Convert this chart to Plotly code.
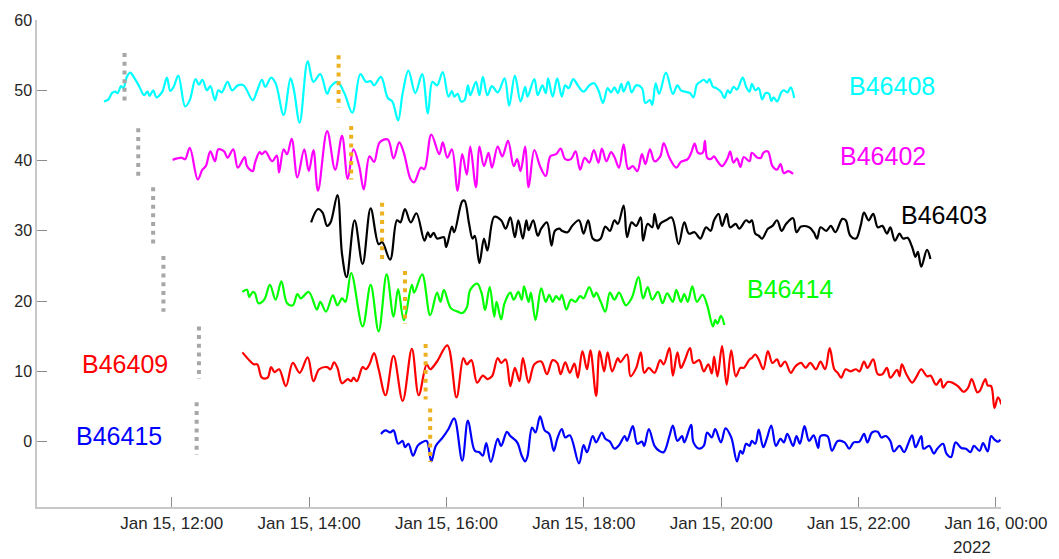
import pandas as pd
import plotly.graph_objects as go

# ---------------- data (minutes after BASE, offset-stacked amplitudes) ----------------
BASE = pd.Timestamp("2022-01-15 10:02:45")

b46408_t = [58,62,65,68,70,73,75,78,81,84,
            89,93,96,98,101,104,109,113,116,119,
            123,129,133,138,141,144,148,151,155,158,
            161,166,170,175,180,188,192,196,199,204,
            208,215,221,224,229,236,241,247,253,256,
            262,268,275,282,287,291,294,300,306,310,
            315,319,324,330,336,341,345,349,354,359,
            362,364,367,370,373,376,378,383,386,389,
            393,397,402,408,412,417,422,426,428,434,
            437,441,444,446,450,454,458,461,464,468,
            472,477,482,486,490,494,498,501,504,507,
            510,512,516,519,523,528,531,535,537,540,
            543,549,555,559,562,566,570,573,576,579,
            582,585,587,590,593,597,600,603,605,608,
            611,616,619,622,624,627,630,633,636,639,
            641,643,646,650,652,655,658,661]
b46408_v = [48.4,48.7,49.6,49.8,49.6,50.6,50.3,51.9,52.5,51.9,
            50.5,49.3,49.8,49.2,50.0,49.0,49.8,51.8,49.9,50.5,
            52.1,47.7,48.6,51.6,50.8,51.5,50.0,50.6,48.6,50.0,
            49.7,51.2,50.0,50.7,50.7,48.6,50.0,51.5,50.5,51.8,
            51.0,46.5,51.7,50.0,45.4,54.1,51.2,52.3,49.5,50.5,
            51.2,49.6,46.8,52.3,51.2,51.3,50.7,51.9,48.9,48.4,
            45.7,49.6,52.8,49.6,52.3,46.7,51.2,50.7,52.6,49.1,
            49.9,49.1,49.5,48.4,48.6,50.7,49.3,51.2,49.3,51.9,
            49.3,50.6,49.7,51.7,47.8,52.1,48.4,50.5,49.1,51.6,
            49.3,50.7,49.6,51.7,49.1,51.7,49.1,50.7,50.3,51.6,
            50.7,49.8,50.7,51.0,50.0,48.2,50.3,49.7,50.4,49.6,
            50.9,49.8,51.2,49.7,50.7,50.3,48.2,48.6,47.9,51.0,
            49.5,52.5,49.5,50.7,50.0,49.8,49.6,49.0,50.8,51.2,
            51.5,51.1,51.6,50.5,50.3,49.8,48.9,50.0,49.6,50.5,
            50.1,51.8,50.5,49.8,50.9,50.0,50.3,48.7,49.6,49.5,
            48.5,49.0,48.4,49.8,50.0,49.7,50.4,48.9]

b46402_t = [118,122,126,129,133,140,144,147,151,155,
            158,163,166,171,175,181,183,188,190,194,
            196,199,205,209,211,215,218,222,227,233,
            237,241,245,253,260,266,271,276,281,285,
            290,294,299,306,311,316,320,326,329,335,
            338,344,351,354,358,362,367,371,375,378,
            383,386,390,394,397,402,406,411,416,419,
            422,426,429,434,439,444,448,453,457,461,
            466,470,474,478,482,486,490,493,497,501,
            504,508,512,516,520,524,528,531,535,539,
            544,547,552,558,562,568,571,574,577,581,
            583,585,588,591,594,598,603,605,608,611,
            614,617,622,624,629,632,634,638,642,646,
            649,652,656,660]
b46402_v = [40.1,40.3,40.4,40.2,41.8,37.3,38.7,39.2,41.3,39.9,
            41.6,41.3,40.4,41.6,39.0,40.5,39.2,38.5,39.7,41.2,
            40.9,41.3,39.9,40.7,38.3,41.6,40.9,43.1,37.6,41.6,
            38.5,41.5,35.7,44.2,38.7,43.5,37.4,41.6,39.2,35.9,
            40.6,39.8,42.6,43.0,40.3,42.6,41.1,37.3,36.9,39.0,
            38.8,43.7,40.9,42.6,40.4,41.6,35.7,40.9,38.0,42.0,
            36.2,42.0,39.2,41.1,39.0,42.0,40.6,42.8,39.2,40.2,
            38.5,42.0,36.2,41.5,39.2,37.8,40.6,40.9,41.7,40.2,
            40.2,41.3,38.7,40.4,39.7,41.5,39.7,41.7,39.9,41.2,
            40.5,39.0,42.3,38.8,39.2,38.5,40.9,39.5,41.6,39.9,
            40.6,42.5,40.4,39.0,39.8,40.2,41.1,42.4,41.1,41.1,
            42.8,40.4,40.2,40.6,39.9,39.2,40.4,41.3,39.7,40.3,
            39.1,40.5,39.9,41.1,40.4,40.4,41.1,41.3,39.2,38.7,
            39.5,38.2,38.5,38.1]

b46403_t = [239,245,249,253,256,262,266,270,277,284,
            291,298,301,308,314,317,321,326,331,338,
            341,343,346,349,352,355,357,362,364,371,
            373,377,380,382,386,390,393,399,405,409,
            413,417,420,424,427,429,433,437,440,445,
            449,452,456,458,463,467,473,477,481,485,
            489,492,496,500,504,507,512,515,519,523,
            527,529,533,537,539,542,544,549,554,560,
            565,569,574,579,584,588,591,595,598,602,
            605,610,613,619,622,624,627,630,633,638,
            642,646,650,654,660,663,667,674,678,681,
            684,689,693,697,703,706,710,715,719,722,
            726,730,734,738,742,745,749,753,756,760,
            764,767,769,772,777,780]
b46403_v = [31.2,33.1,32.6,30.7,31.2,35.1,26.7,23.4,31.5,25.3,
            33.2,28.1,28.4,25.9,31.5,31.2,33.1,31.2,32.5,28.6,
            29.8,29.1,29.7,28.9,29.0,29.1,27.7,30.6,29.8,34.2,
            34.3,31.0,28.9,29.3,25.4,28.9,27.2,32.0,31.5,30.3,
            31.9,29.1,31.5,28.9,31.5,30.1,31.5,29.3,30.3,31.2,
            27.9,30.0,30.3,30.0,29.8,30.7,31.5,29.6,31.5,28.9,
            28.6,28.9,30.6,30.0,31.5,31.0,33.6,29.1,31.2,30.7,
            31.9,28.6,31.0,30.5,32.4,30.3,31.0,31.5,31.9,28.1,
            31.2,29.6,29.8,28.9,30.5,30.0,31.5,32.4,30.7,32.4,
            30.5,31.0,30.3,31.5,31.2,31.5,29.6,29.3,28.9,30.3,
            30.7,31.5,30.0,31.0,31.8,29.8,30.6,30.5,29.8,28.9,
            30.5,30.0,30.7,29.8,31.7,31.5,29.3,28.9,30.7,32.6,
            31.5,32.4,30.5,30.7,29.6,30.5,28.6,29.6,28.9,29.0,
            27.7,26.3,27.0,24.9,27.3,26.0]

b46414_t = [179,183,185,188,190,193,198,203,208,213,
            218,223,227,230,237,244,247,252,258,262,
            266,269,274,284,291,298,305,311,315,320,
            327,329,336,343,349,352,355,361,367,371,
            375,378,384,388,391,395,399,401,405,408,
            413,416,420,423,425,429,431,435,440,444,
            447,450,453,456,458,462,466,470,474,477,
            482,486,488,492,496,500,504,508,514,519,
            525,529,533,537,542,546,550,555,558,562,
            565,568,572,576,581,585,590,592,594,597,
            600]
b46414_v = [21.3,21.6,20.6,21.3,21.1,19.7,20.2,22.3,20.2,22.8,
            19.7,19.4,21.0,20.4,21.3,18.8,19.9,18.5,20.8,19.4,
            20.4,19.9,24.0,16.4,22.3,15.7,23.8,17.8,21.7,17.3,
            22.3,21.2,23.8,18.0,21.2,19.9,21.6,19.0,18.5,18.3,
            19.1,21.6,22.5,21.1,18.7,22.0,17.8,19.9,17.4,19.7,
            21.2,20.2,21.3,20.2,22.1,19.9,21.2,17.3,21.8,19.9,
            20.9,19.9,20.7,20.2,20.9,18.8,20.2,19.9,20.7,20.4,
            22.0,20.6,21.2,19.9,18.5,21.2,20.2,21.2,19.4,20.4,
            23.4,20.4,22.0,20.2,21.3,19.7,21.1,19.9,21.6,19.9,
            21.0,19.9,22.1,19.9,20.9,19.4,16.4,17.3,16.8,17.9,
            16.6]

b46409_t = [179,186,189,192,196,201,204,207,211,217,
            223,229,236,241,246,253,256,259,262,266,
            271,274,276,279,284,287,290,294,298,304,
            311,319,327,333,340,343,349,358,366,372,
            375,379,384,389,393,397,402,405,409,413,
            417,421,424,429,434,440,445,450,454,457,
            461,465,469,472,476,480,483,488,491,495,
            498,502,507,509,515,518,523,527,530,534,
            539,544,547,552,555,559,562,565,570,573,
            578,582,586,589,591,594,598,602,606,610,
            614,617,622,624,627,630,634,638,642,646,
            649,653,658,662,667,671,675,680,684,688,
            692,696,699,702,706,710,715,718,722,725,
            730,734,738,742,745,751,753,755,759,764,
            768,772,777,780,785,789,791,795,799,804,
            809,813,816,821,823,828,830,833,836,839,
            842]
b46409_v = [12.7,11.4,11.0,11.0,9.1,9.1,10.6,9.9,10.3,7.9,
            11.2,9.8,12.0,8.6,10.3,10.6,10.3,11.3,10.5,8.3,
            8.9,8.6,9.1,8.6,10.6,10.3,11.0,12.6,10.3,6.6,
            12.2,5.8,13.2,6.6,11.0,10.3,11.4,13.7,6.3,11.9,
            11.0,11.6,8.4,9.4,8.9,9.3,11.9,11.2,11.7,7.9,
            10.5,8.6,11.9,8.4,11.0,11.4,9.6,11.6,11.2,9.6,
            11.3,9.8,11.1,9.1,12.9,10.3,13.0,6.5,12.9,10.0,
            12.7,10.0,11.9,11.3,12.4,9.3,10.5,12.7,9.8,10.5,
            9.8,11.6,11.0,13.3,9.4,12.7,10.5,11.4,13.3,11.2,
            11.6,10.0,11.0,9.7,12.1,9.3,13.6,8.1,13.0,9.3,
            10.5,10.5,11.7,11.9,12.4,11.7,10.3,12.9,11.2,11.7,
            10.7,11.4,9.8,10.7,11.2,10.5,11.2,10.3,11.4,10.3,
            13.3,10.3,9.8,9.1,10.3,10.0,10.3,10.0,11.4,10.5,
            11.7,9.6,9.6,10.5,9.1,10.2,9.3,11.0,9.6,8.4,
            9.3,10.3,9.3,9.4,8.1,8.9,7.7,8.5,8.4,7.9,
            7.1,7.7,8.9,7.0,7.2,8.9,8.0,7.9,4.8,6.3,
            5.3]

b46415_t = [300,304,308,311,315,319,321,324,328,332,
            336,340,344,348,354,359,364,371,376,382,
            386,389,392,396,402,405,410,413,419,423,
            426,428,432,435,439,443,447,451,454,458,
            461,465,473,477,480,485,488,493,496,500,
            504,508,513,515,520,524,528,530,534,539,
            543,547,552,555,559,563,565,571,573,578,
            582,585,589,592,597,601,606,611,614,616,
            619,622,624,627,630,634,637,641,645,649,
            652,655,660,663,666,670,674,678,682,684,
            690,694,699,705,709,713,718,722,725,729,
            734,737,741,745,748,753,757,761,764,767,
            772,774,779,783,786,791,794,798,802,807,
            811,815,818,823,826,830,833,836,839,841]
b46415_v = [1.1,1.6,1.3,1.6,-0.3,0.1,-0.8,-0.3,-2.0,-0.6,
            -0.1,0.1,-2.8,-0.6,0.6,1.8,3.3,-2.7,3.0,-1.3,
            -1.5,-2.0,-0.2,-2.9,0.4,-0.6,1.4,0.8,-0.1,-2.0,
            -2.8,-2.1,2.0,1.3,3.6,1.6,1.1,-1.3,0.4,1.8,
            0.6,0.9,-3.1,-0.5,-1.5,0.8,-0.1,1.3,0.4,0.0,
            -1.0,-0.5,0.8,0.1,2.2,-0.3,0.0,-0.6,1.8,-0.6,
            -1.3,-1.5,0.8,2.3,0.1,0.8,-0.1,2.4,-0.1,-1.0,
            -0.6,1.3,0.6,1.8,-0.1,1.9,0.6,-2.8,-1.3,-1.7,
            -0.3,-0.6,0.1,-0.3,1.7,-0.8,0.4,2.3,-0.6,0.4,
            -0.1,1.1,-0.6,0.8,-0.3,2.2,0.1,0.9,-0.9,0.8,
            0.8,-1.3,0.1,-0.1,-1.0,-0.1,0.0,1.1,-0.1,1.3,
            1.4,0.6,0.8,0.1,-1.4,-0.6,-1.5,-0.1,0.9,-0.8,
            0.8,-1.0,-0.6,-1.7,-1.0,-0.3,-1.7,-2.2,-0.1,-0.9,
            -1.0,-1.5,-0.6,-1.3,-0.2,-1.4,0.8,0.3,0.0,0.3]

station_names = ["B46408", "B46402", "B46403", "B46414", "B46409", "B46415"]
station_colors = ["#00FFFF", "#FF00FF", "#000000", "#00FF00", "#FF0000", "#0000FF"]

# event marker bars (minutes after BASE, value span)
gray_t = [76, 88, 101, 110, 141, 139]
gray_top = [55.3, 44.6, 36.2, 26.4, 16.4, 5.6]
gray_bot = [47.9, 37.3, 28.0, 18.5, 8.9, -1.9]
orange_t = [263, 274, 301, 321, 339, 343]
orange_top = [55.0, 44.9, 34.0, 24.3, 13.9, 4.7]
orange_bot = [47.5, 37.3, 26.0, 16.8, 6.0, -2.9]

# ---------------- figure ----------------
def tt(mins):
    return [BASE + pd.Timedelta(minutes=m) for m in mins]

series = [(b46408_t, b46408_v), (b46402_t, b46402_v), (b46403_t, b46403_v),
          (b46414_t, b46414_v), (b46409_t, b46409_v), (b46415_t, b46415_v)]

fig = go.Figure()
for (t, v), name, col in zip(series, station_names, station_colors):
    assert len(t) == len(v), (name, len(t), len(v))
    fig.add_trace(go.Scatter(x=tt(t), y=v, mode="lines", name=name,
                             line=dict(color=col, width=2.2, shape="spline", smoothing=1.0),
                             hoverinfo="skip"))

for t, a, b in zip(gray_t, gray_top, gray_bot):
    fig.add_trace(go.Scatter(x=tt([t, t]), y=[a, b], mode="lines",
                             line=dict(color="#A6A6A6", width=4, dash="4px,4.7px"),
                             hoverinfo="skip"))
for t, a, b in zip(orange_t, orange_top, orange_bot):
    fig.add_trace(go.Scatter(x=tt([t, t]), y=[a, b], mode="lines",
                             line=dict(color="#EDB120", width=4, dash="4px,4.7px"),
                             hoverinfo="skip"))

# station labels (minutes after BASE, value)
label_pos = [(746, 50.6), (739, 40.6), (792, 32.3), (657, 21.7), (76, 11.0), (71, 0.85)]
annos = []
for (m, y), name, col in zip(label_pos, station_names, station_colors):
    annos.append(dict(x=BASE + pd.Timedelta(minutes=m), y=y, xref="x", yref="y",
                      text=name, showarrow=False, xanchor="center", yanchor="middle",
                      font=dict(family="Liberation Sans, Arial", size=25, color=col)))
annos.append(dict(x=pd.Timestamp("2022-01-16 00:00"), y=0, xref="x", yref="paper",
                  text="2022", showarrow=False, xanchor="center", yanchor="top",
                  xshift=-24, yshift=-29,
                  font=dict(family="Liberation Sans, Arial", size=17, color="#262626")))

fig.update_layout(
    width=1059, height=559,
    margin=dict(l=37, r=56, t=13, b=52),
    paper_bgcolor="white", plot_bgcolor="white",
    showlegend=False,
    annotations=annos,
    font=dict(family="Liberation Sans, Arial", color="#262626"),
)
fig.update_xaxes(
    type="date",
    range=["2022-01-15 10:02:18", "2022-01-16 00:04:24"],
    tick0="2022-01-15 00:00", dtick=2 * 3600 * 1000,
    tickformat="%b %-d, %H:%M",
    tickfont=dict(size=17, color="#262626"),
    showline=True, linecolor="#C8C8C8", linewidth=1.5,
    ticks="inside", ticklen=10, tickcolor="#8C8C8C", tickwidth=1,
    showgrid=False, zeroline=False,
)
fig.update_yaxes(
    range=[-9.3, 60],
    tickvals=[0, 10, 20, 30, 40, 50, 60],
    tickfont=dict(size=16, color="#262626"),
    showline=True, linecolor="#C8C8C8", linewidth=1.5,
    ticks="inside", ticklen=10, tickcolor="#8C8C8C", tickwidth=1,
    showgrid=False, zeroline=False,
)

fig.write_html("out.html")
